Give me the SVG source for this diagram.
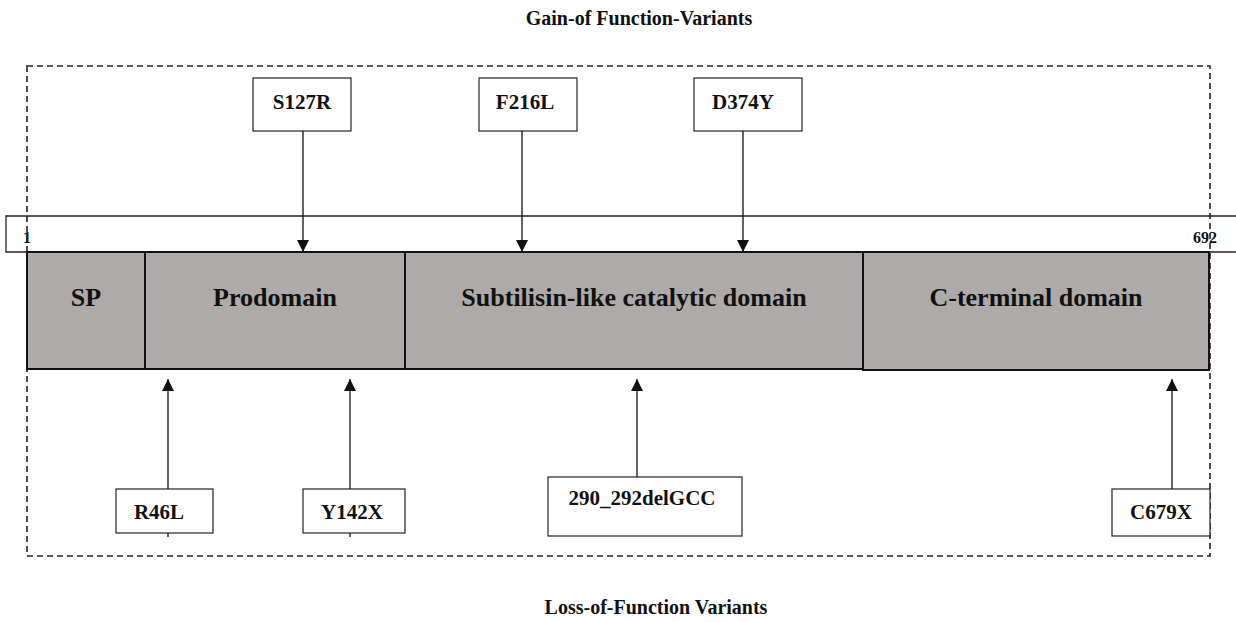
<svg xmlns="http://www.w3.org/2000/svg" width="1236" height="622" viewBox="0 0 1236 622">
<style>
text{font-family:"Liberation Serif","Times New Roman",serif;font-weight:bold;fill:#111;text-anchor:middle}
.title{font-size:20px}
.dom{font-size:26px}
.lab{font-size:21px}
.box{fill:#fff;stroke:#222;stroke-width:1.2}
.domr{fill:#aeaaa9;stroke:#111;stroke-width:2}
.conn{stroke:#111;stroke-width:1.3;fill:none}
.dash{fill:none;stroke:#222;stroke-width:1.6;stroke-dasharray:6 4}
</style>
<defs>
<marker id="ah" viewBox="0 0 10 10" refX="10" refY="5" markerWidth="13" markerHeight="12" markerUnits="userSpaceOnUse" orient="auto">
<path d="M0,0 L10,5 L0,10 z" fill="#111"/>
</marker>
</defs>
<text class="title" x="639" y="25">Gain-of Function-Variants</text>
<text class="title" x="656" y="614">Loss-of-Function Variants</text>
<g id="scale">
<path d="M1236,216 H6 V252 H1236" fill="#fff" stroke="#222" stroke-width="1.3"/>
<text x="27" y="243" style="font-size:16px">1</text>
<text x="1217" y="243" style="font-size:16px;text-anchor:end">692</text>
</g>
<rect class="dash" x="27" y="66" width="1183" height="490"/>
<g id="sp"><rect class="domr" x="27" y="252" width="118" height="117"/><text class="dom" x="86" y="306">SP</text></g>
<g id="prodomain"><rect class="domr" x="145" y="252" width="260" height="117"/><text class="dom" x="275" y="306">Prodomain</text></g>
<g id="catalytic"><rect class="domr" x="405" y="252" width="458" height="117"/><text class="dom" x="634" y="306">Subtilisin-like catalytic domain</text></g>
<g id="cterm"><rect class="domr" x="863" y="252" width="346" height="118"/><text class="dom" x="1036" y="306">C-terminal domain</text></g>
<g id="S127R"><rect class="box" x="253" y="78" width="98" height="53"/><text class="lab" x="302" y="109">S127R</text></g>
<g id="F216L"><rect class="box" x="479" y="78" width="98" height="53"/><text class="lab" x="525" y="109">F216L</text></g>
<g id="D374Y"><rect class="box" x="694" y="78" width="108" height="53"/><text class="lab" x="743" y="109">D374Y</text></g>
<g id="R46L"><rect class="box" x="116" y="489" width="97" height="44"/><text class="lab" x="159" y="519">R46L</text></g>
<g id="Y142X"><rect class="box" x="303" y="489" width="102" height="44"/><text class="lab" x="352" y="519">Y142X</text></g>
<g id="del290"><rect class="box" x="548" y="477" width="194" height="59"/><text class="lab" x="642" y="505">290_292delGCC</text></g>
<g id="C679X"><rect class="box" x="1112" y="489" width="98" height="47"/><text class="lab" x="1161" y="519">C679X</text></g>
<g id="connectors">
<line class="conn" x1="303" y1="131" x2="303" y2="252" marker-end="url(#ah)"/>
<line class="conn" x1="522" y1="131" x2="522" y2="252" marker-end="url(#ah)"/>
<line class="conn" x1="743" y1="131" x2="743" y2="252" marker-end="url(#ah)"/>
<line class="conn" x1="168" y1="489" x2="168" y2="379" marker-end="url(#ah)"/>
<line class="conn" x1="350" y1="489" x2="350" y2="379" marker-end="url(#ah)"/>
<line class="conn" x1="637" y1="477" x2="637" y2="379" marker-end="url(#ah)"/>
<line class="conn" x1="1172" y1="489" x2="1172" y2="379" marker-end="url(#ah)"/>
<line class="conn" x1="168" y1="533" x2="168" y2="537"/>
<line class="conn" x1="350" y1="533" x2="350" y2="537"/>
</g>
</svg>
